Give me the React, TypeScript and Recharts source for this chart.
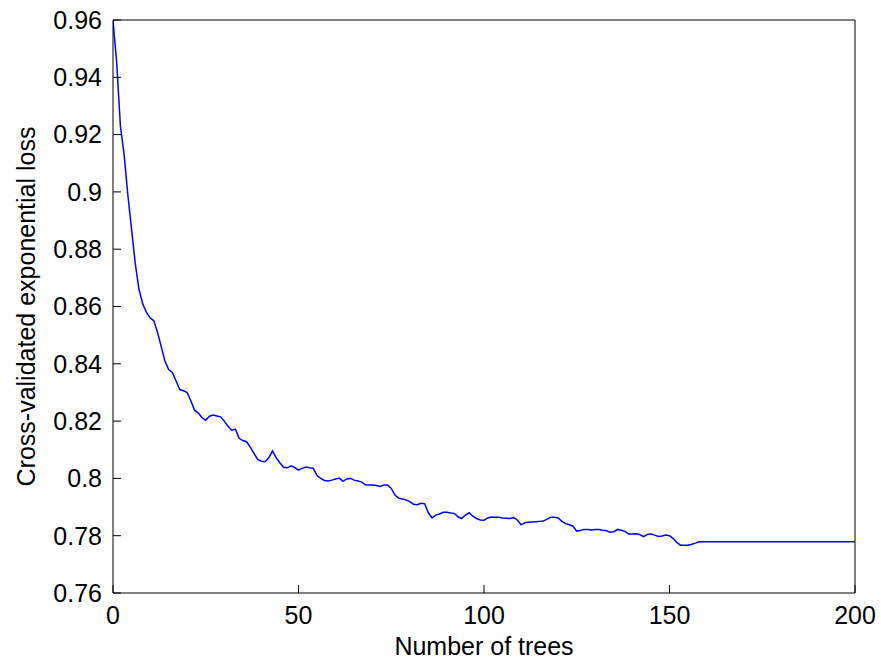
import React from 'react';
import { LineChart, Line, XAxis, YAxis } from 'recharts';

// Cross-validated exponential loss for trees 0..158
const lossValues: number[] = [
  0.96, 0.945, 0.923, 0.913, 0.899, 0.887, 0.875, 0.866, 0.861, 0.858,
  0.856, 0.855, 0.851, 0.846, 0.841, 0.838, 0.837, 0.834, 0.831, 0.8306,
  0.83, 0.827, 0.8238, 0.8228, 0.8212, 0.8203, 0.8217, 0.8221, 0.8218, 0.8215,
  0.82, 0.8182, 0.8168, 0.8172, 0.814, 0.8132, 0.8128, 0.8109, 0.8087, 0.8066,
  0.806, 0.8058, 0.8072, 0.8096, 0.8072, 0.8054, 0.8039, 0.8037, 0.8044, 0.8038,
  0.8029, 0.8035, 0.804, 0.8037, 0.8035, 0.801, 0.8, 0.7993, 0.7991, 0.7994,
  0.7998, 0.8001, 0.799, 0.7998, 0.8, 0.7994, 0.7991, 0.7988, 0.7978, 0.7977,
  0.7977, 0.7975, 0.7972, 0.7977, 0.7977, 0.7965, 0.7942, 0.7931, 0.7928, 0.7925,
  0.7919, 0.791, 0.7908, 0.7913, 0.7912, 0.788, 0.7862, 0.7872, 0.7876, 0.7882,
  0.7882, 0.7879, 0.7878, 0.7866, 0.786, 0.7872, 0.788, 0.7868, 0.786, 0.7855,
  0.7854, 0.7862, 0.7865, 0.7864, 0.7864, 0.7862, 0.7861, 0.786, 0.7863, 0.7855,
  0.7838, 0.7845, 0.7847, 0.7848, 0.7849, 0.785, 0.7851, 0.7858, 0.7864, 0.7864,
  0.7862, 0.785, 0.7842, 0.7838, 0.7833, 0.7816, 0.7818, 0.7822, 0.7822, 0.782,
  0.7822, 0.7822, 0.7819, 0.7817, 0.7812, 0.7814, 0.7822, 0.7819, 0.7815, 0.7806,
  0.7806, 0.7807, 0.7804, 0.7797, 0.7804, 0.7806, 0.7802, 0.7797, 0.7799, 0.7802,
  0.78, 0.779, 0.7776, 0.7767, 0.7767, 0.7767, 0.777, 0.7774, 0.7779,
];
// the curve stays flat from tree 158 to the last tree
const lastTree = 200;
const lastLoss = 0.7779;

const xTicks = [0, 50, 100, 150, 200];
const yTicks = [0.76, 0.78, 0.8, 0.82, 0.84, 0.86, 0.88, 0.9, 0.92, 0.94, 0.96];

const xLabel = 'Number of trees';
const yLabel = 'Cross-validated exponential loss';

const trees = lossValues.map((_, i) => i).concat([lastTree]);
const losses = lossValues.concat([lastLoss]);
const data = trees.map((t, i) => ({ tree: t, loss: losses[i] }));

const FONT = 'Liberation Sans, Arial, Helvetica, sans-serif';
const tickStyle = { fontSize: 25, fill: '#000', fontFamily: FONT };

const YLabel = (props: any) => {
  const vb = props.viewBox || { x: 0, y: 20, width: 113, height: 573 };
  const x = vb.x + 35;
  const y = vb.y + vb.height / 2;
  return (
    <text x={x} y={y} transform={`rotate(-90 ${x} ${y})`} textAnchor="middle"
      fontSize={25} fontFamily={FONT} fill="#000">{yLabel}</text>
  );
};

const XLabel = (props: any) => {
  const vb = props.viewBox || { x: 113, y: 593, width: 742, height: 69 };
  const x = vb.x + vb.width / 2;
  const y = vb.y + 62;
  return (
    <text x={x} y={y} textAnchor="middle" fontSize={25} fontFamily={FONT} fill="#000">{xLabel}</text>
  );
};

export default function App() {
  return (
    <div style={{ position: 'absolute', left: 0, top: 0, background: '#fff' }}>
      <LineChart width={881} height={662} data={data}
        margin={{ top: 19, right: 25, bottom: 0, left: 0 }}>
        <XAxis dataKey="tree" type="number" domain={[0, 200]} ticks={xTicks} interval={0}
          allowDataOverflow tickSize={-8} tickMargin={21} height={69}
          axisLine={{ stroke: '#000' }} tickLine={{ stroke: '#000' }} tick={tickStyle}
          label={(p: any) => <XLabel {...p} />} />
        <XAxis xAxisId="top" orientation="top" type="number" domain={[0, 200]} ticks={xTicks}
          interval={0} allowDataOverflow tickSize={-8} height={1} tick={false}
          axisLine={{ stroke: '#000' }} tickLine={{ stroke: '#000' }} />
        <YAxis type="number" domain={[0.76, 0.96]} ticks={yTicks} interval={0} allowDataOverflow
          tickSize={-8} tickMargin={19} width={113}
          axisLine={{ stroke: '#000' }} tickLine={{ stroke: '#000' }} tick={tickStyle}
          label={(p: any) => <YLabel {...p} />} />
        <YAxis yAxisId="right" orientation="right" type="number" domain={[0.76, 0.96]} ticks={yTicks}
          interval={0} allowDataOverflow tickSize={-8} width={1} tick={false}
          axisLine={{ stroke: '#000' }} tickLine={{ stroke: '#000' }} />
        <Line type="linear" dataKey="loss" stroke="#0000ff" strokeWidth={1.5} dot={false}
          isAnimationActive={false} />
      </LineChart>
    </div>
  );
}
